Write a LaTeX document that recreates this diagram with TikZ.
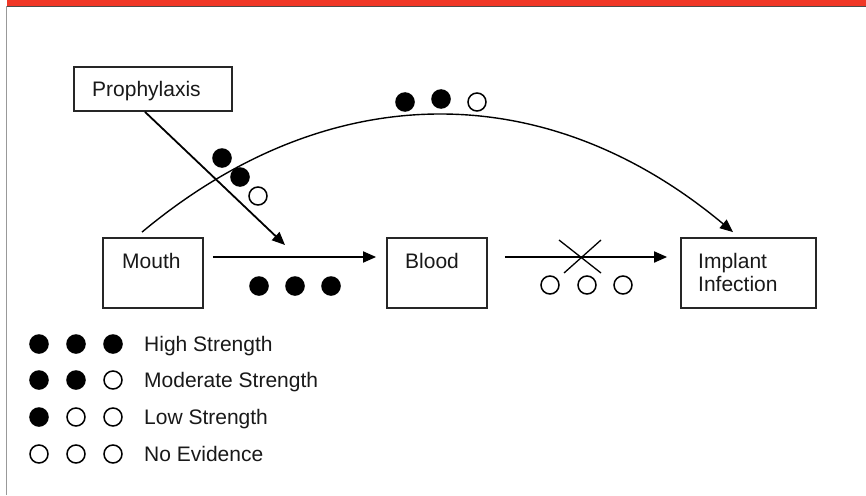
\documentclass[tikz,border=0pt]{standalone}
\usepackage{fontspec}
\setmainfont{Liberation Sans}
\usetikzlibrary{arrows.meta}
\definecolor{barred}{RGB}{240,55,38}
\begin{document}
\begin{tikzpicture}[x=1pt,y=-1pt,
  box/.style={draw=black!85, line width=1.8pt, inner sep=0pt},
  lbl/.style={inner sep=0pt, anchor=base west, text=black!90, font=\fontsize{21}{24}\selectfont},
  arr/.style={line width=1.8pt, -{Triangle[length=13pt,width=11pt]}},
  carr/.style={line width=1.4pt, -{Triangle[length=13pt,width=11pt]}},
  fdot/.style={fill=black},
  odot/.style={draw=black, line width=1.5pt, fill=white}]
\useasboundingbox (0,0) rectangle (866,495);
\fill[white] (0,0) rectangle (866,495);
% frame
\fill[barred] (7,0) rectangle (866,6.3);
\draw[black!70, line width=1pt] (6,7) -- (866,7);
\draw[black!40, line width=1.4pt] (6.5,6.5) -- (6.5,495);
% boxes
\node[box, minimum width=158pt, minimum height=44pt] (proph) at (153,89) {};
\node[box, minimum width=100pt, minimum height=70pt] (mouth) at (153,273) {};
\node[box, minimum width=100pt, minimum height=70pt] (blood) at (437,273) {};
\node[box, minimum width=135pt, minimum height=70pt] (impl) at (748.5,273) {};
% texts
\node[lbl] (tproph) at (92,96) {Prophylaxis};
\node[lbl] (tmouth) at (122,268) {Mouth};
\node[lbl] (tblood) at (405,268) {Blood};
\node[lbl] (timpl) at (698,268) {Implant};
\node[lbl] (tinf) at (698,291.5) {Infection};
% connectors
\draw[arr] ([yshift=16pt,xshift=9pt]mouth.east) -- ([yshift=16pt,xshift=-10pt]blood.west);
\draw[arr] ([yshift=16pt,xshift=17pt]blood.east) -- ([yshift=16pt,xshift=-13pt]impl.west);
\coordinate (pend) at (285,245);
\draw[arr] ([xshift=-8pt]proph.south) -- (pend);
\draw[carr] ([xshift=-11pt,yshift=5pt]mouth.north) .. controls (329,76) and (546,76) .. ([xshift=-15.5pt,yshift=5pt]impl.north);
% cross
\coordinate (xc) at (580,257);
\draw[line width=1.3pt] (559,240) -- (601,273);
\draw[line width=1.3pt] (601,240) -- (564,273);
% evidence dots
\path[fdot] (405,102) circle (9.8pt) (441,99) circle (9.8pt);
\path[odot] (477,102) circle (9pt);
\path[fdot] (222,158) circle (9.8pt) (240,177) circle (9.8pt);
\path[odot] (258,196) circle (9pt);
\path[fdot] (259,286) circle (9.8pt) (295,286) circle (9.8pt) (331,286) circle (9.8pt);
\path[odot] (550,285) circle (9pt) (587,285) circle (9pt) (623,285) circle (9pt);
% legend
\path[fdot] (39,344) circle (9.8pt) (76,344) circle (9.8pt) (113,344) circle (9.8pt);
\path[fdot] (39,380) circle (9.8pt) (76,380) circle (9.8pt);
\path[odot] (113,380) circle (9pt);
\path[fdot] (39,417) circle (9.8pt);
\path[odot] (76,417) circle (9pt) (113,417) circle (9pt);
\path[odot] (39,454) circle (9pt) (76,454) circle (9pt) (113,454) circle (9pt);
\node[lbl] (lh) at (144,351.5) {High Strength};
\node[lbl] (lm) at (144,387.5) {Moderate Strength};
\node[lbl] (ll) at (144,424.5) {Low Strength};
\node[lbl] (ln) at (144,461.5) {No Evidence};
\end{tikzpicture}
\end{document}
